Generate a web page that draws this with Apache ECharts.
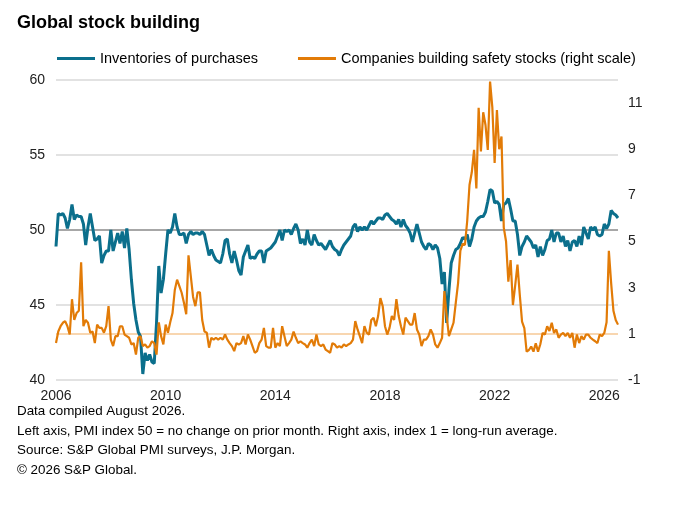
<!DOCTYPE html>
<html>
<head>
<meta charset="utf-8">
<script src="https://cdn.jsdelivr.net/npm/echarts@6/dist/echarts.min.js"></script>
<style>
  html, body { margin: 0; padding: 0; background: #fff; }
  #chart { width: 676px; height: 508px; }
</style>
</head>
<body>
<div id="chart"></div>
<script>
// monthly, Jan 2006 .. Jul 2026
var startYear = 2006
var monthCount = 247

// PMI inventories of purchases (left axis)
var inventories = [
  48.9, 51.1, 51.0, 51.1, 50.8, 50.1, 50.7, 51.7, 50.7, 51.0,
  50.9, 50.9, 50.4, 49.0, 50.2, 51.1, 50.2, 49.3, 49.4, 49.6,
  47.8, 48.3, 48.6, 48.6, 50.0, 48.6, 49.2, 49.8, 49.1, 49.9,
  48.8, 50.1, 48.7, 46.7, 45.1, 44.0, 43.2, 42.9, 40.4, 41.8,
  41.3, 41.7, 41.2, 41.1, 43.8, 47.6, 45.8, 46.7, 48.4, 50.0,
  49.8, 50.2, 51.1, 50.2, 49.7, 49.7, 49.8, 49.1, 49.7, 49.9,
  49.7, 49.8, 49.8, 49.7, 49.9, 49.7, 49.0, 48.3, 48.7, 48.3,
  48.0, 47.9, 47.8, 48.4, 49.3, 49.4, 48.4, 47.8, 48.6, 48.0,
  47.3, 47.0, 48.2, 48.6, 49.0, 48.1, 48.2, 48.1, 48.4, 48.6,
  48.6, 47.8, 48.6, 48.7, 48.8, 49.0, 49.2, 49.6, 50.0, 49.3,
  50.0, 49.9, 50.0, 49.7, 50.1, 50.4, 50.0, 49.1, 49.4, 49.0,
  50.0, 49.2, 49.0, 49.7, 49.3, 49.0, 49.1, 48.9, 48.7, 49.0,
  49.3, 48.9, 48.7, 48.6, 48.3, 48.7, 49.0, 49.2, 49.4, 49.6,
  50.2, 50.4, 49.9, 50.2, 50.0, 50.2, 50.0, 50.3, 50.6, 50.4,
  50.6, 50.8, 50.8, 50.7, 51.0, 51.1, 50.9, 50.7, 50.6, 50.4,
  50.7, 50.2, 50.7, 50.3, 50.1, 49.8, 49.2, 49.8, 50.4, 49.8,
  49.2, 48.9, 48.7, 49.1, 49.0, 48.7, 49.0, 48.8, 48.1, 46.4,
  47.2, 43.8, 46.0, 47.8, 48.3, 48.7, 48.8, 49.1, 49.5, 49.4,
  49.7, 48.9, 49.4, 50.2, 50.6, 50.8, 50.9, 50.9, 51.2, 51.9,
  52.7, 52.6, 51.8, 51.9, 51.7, 50.6, 51.7, 51.8, 52.1, 51.4,
  50.6, 50.6, 49.7, 48.3, 48.9, 49.2, 49.6, 49.4, 49.2, 48.8,
  49.0, 48.2, 48.9, 48.3, 48.7, 49.3, 49.4, 50.0, 49.2, 49.8,
  49.8, 49.2, 49.6, 48.9, 49.3, 48.6, 49.2, 49.3, 48.9, 49.6,
  49.0, 50.2, 49.8, 49.4, 50.2, 50.0, 50.2, 49.7, 49.6, 49.7,
  50.4, 50.1, 50.4, 51.3, 51.1, 51.0, 50.8
]

// safety stocks index, 1 = long-run average (right axis)
var safetyStocks = [
  0.6, 1.1, 1.33, 1.48, 1.55, 1.33, 0.97, 2.5, 1.6, 1.9,
  2.0, 4.1, 1.33, 1.6, 1.48, 1.05, 1.1, 0.6, 1.4, 1.26,
  1.26, 1.05, 1.33, 2.2, 0.75, 0.47, 0.9, 0.9, 1.33, 1.33,
  0.97, 0.9, 0.83, 0.54, 0.6, 0.1, 0.83, 0.9, 0.47, 0.54,
  0.4, 0.47, 0.68, 0.6, 0.1, 1.5, 0.9, 0.54, 1.4, 1.05,
  1.5, 1.9, 2.9, 3.35, 3.07, 2.78, 2.35, 1.85, 4.4, 3.5,
  2.6, 2.2, 2.8, 2.8, 1.6, 1.1, 1.05, 0.4, 0.83, 0.75,
  0.83, 0.75, 0.83, 0.75, 0.97, 0.75, 0.6, 0.47, 0.25, 0.6,
  0.54, 0.6, 0.9, 0.54, 0.97, 0.75, 0.47, 0.18, 0.25, 0.6,
  0.75, 1.26, 0.47, 0.4, 0.4, 1.26, 0.4, 0.6, 0.47, 1.33,
  0.9, 0.47, 0.6, 0.75, 1.1, 0.83, 0.6, 0.68, 0.6, 0.54,
  0.4, 0.6, 0.75, 0.47, 0.97, 0.54, 0.47, 0.54, 0.32, 0.25,
  0.18, 0.6, 0.54, 0.4, 0.47, 0.4, 0.54, 0.47, 0.54, 0.6,
  0.75, 1.55, 1.19, 0.9, 0.6, 1.33, 1.05, 0.97, 1.6, 1.7,
  1.33, 1.77, 2.55, 2.2, 1.33, 0.97, 1.26, 1.77, 1.6, 2.5,
  1.77, 1.33, 0.97, 1.7, 1.55, 1.4, 1.4, 1.9, 1.19, 0.97,
  0.47, 0.75, 0.75, 0.9, 1.19, 0.97, 0.54, 0.4, 0.6, 0.83,
  2.85, 1.77, 0.9, 1.19, 1.48, 2.35, 3.2, 4.6, 4.9, 4.85,
  5.9, 7.45, 8.0, 8.97, 7.3, 10.8, 8.9, 10.6, 10.05, 8.97,
  11.93, 10.8, 8.4, 10.7, 9.0, 9.55, 5.6, 5.0, 3.26, 4.2,
  2.25, 3.1, 4.0, 2.7, 1.53, 1.25, 0.23, 0.3, 0.45, 0.23,
  0.59, 0.23, 0.55, 1.04, 0.97, 1.33, 1.12, 1.48, 1.04, 1.19,
  0.83, 0.97, 1.04, 0.9, 1.04, 0.83, 1.04, 0.4, 0.97, 0.6,
  0.9, 0.75, 0.97, 0.97, 0.83, 0.75, 0.68, 0.6, 0.97, 0.9,
  1.04, 1.5, 4.6, 3.2, 2.0, 1.6, 1.4
]

var months = []
for (var i = 0; i < monthCount; i++) {
  var y = startYear + Math.floor(i / 12)
  var m = (i % 12) + 1
  months.push(y + '-' + (m < 10 ? '0' + m : m))
}

var font = 'Liberation Sans, Arial, sans-serif'
var blue = '#0b6f8c'
var orange = '#e27b07'

var chart = echarts.init(document.getElementById('chart'))
chart.setOption({
  animation: false,
  textStyle: { fontFamily: font },
  title: [
    {
      text: 'Global stock building',
      left: 12, top: 9,
      textStyle: { fontSize: 18, fontWeight: 'bold', color: '#000', fontFamily: font }
    },
    {
      text: 'Data compiled August 2026.\nLeft axis, PMI index 50 = no change on prior month. Right axis, index 1 = long-run average.\nSource: S&P Global PMI surveys, J.P. Morgan.\n\u00a9 2026 S&P Global.',
      left: 12, top: 397,
      textStyle: { fontSize: 13.4, fontWeight: 'normal', color: '#000', lineHeight: 19.5, fontFamily: font }
    }
  ],
  legend: {
    left: 52, top: 46,
    itemWidth: 38, itemHeight: 3, itemGap: 40,
    icon: 'rect',
    textStyle: { fontSize: 14.5, color: '#000', fontFamily: font },
    data: ['Inventories of purchases', 'Companies building safety stocks (right scale)']
  },
  grid: { left: 56, right: 58, top: 80, bottom: 128 },
  xAxis: {
    type: 'category',
    data: months,
    boundaryGap: false,
    axisLine: { show: false },
    axisTick: { show: false },
    axisLabel: {
      interval: function (idx) { return idx % 48 === 0 },
      formatter: function (v) { return v.slice(0, 4) },
      fontSize: 14, color: '#222', margin: 9
    },
    splitLine: { show: false }
  },
  yAxis: [
    {
      type: 'value', min: 40, max: 60, interval: 5,
      axisLine: { show: false }, axisTick: { show: false },
      axisLabel: { fontSize: 14, color: '#222', margin: 11 },
      splitLine: { lineStyle: { color: ['#d9d9d9', '#d9d9d9', '#8a8a8a', '#d9d9d9', '#d9d9d9'], width: 1.5 } }
    },
    {
      type: 'value', min: -1, max: 12, interval: 1, position: 'right',
      axisLine: { show: false }, axisTick: { show: false },
      axisLabel: {
        fontSize: 14, color: '#222', margin: 10,
        formatter: function (v) { return Math.abs(v % 2) === 1 ? String(v) : '' }
      },
      splitLine: { show: false }
    }
  ],
  series: [
    {
      name: 'Inventories of purchases',
      type: 'line',
      data: inventories,
      yAxisIndex: 0,
      showSymbol: false,
      itemStyle: { color: blue },
      lineStyle: { color: blue, width: 3 },
      z: 3
    },
    {
      name: 'Companies building safety stocks (right scale)',
      type: 'line',
      data: safetyStocks,
      yAxisIndex: 1,
      showSymbol: false,
      itemStyle: { color: orange },
      lineStyle: { color: orange, width: 2.2 },
      z: 4,
      markLine: {
        silent: true,
        symbol: 'none',
        label: { show: false },
        lineStyle: { color: '#f6c896', width: 1.5, type: 'solid' },
        z: 1,
        data: [{ yAxis: 1 }]
      }
    }
  ]
})
</script>
</body>
</html>
